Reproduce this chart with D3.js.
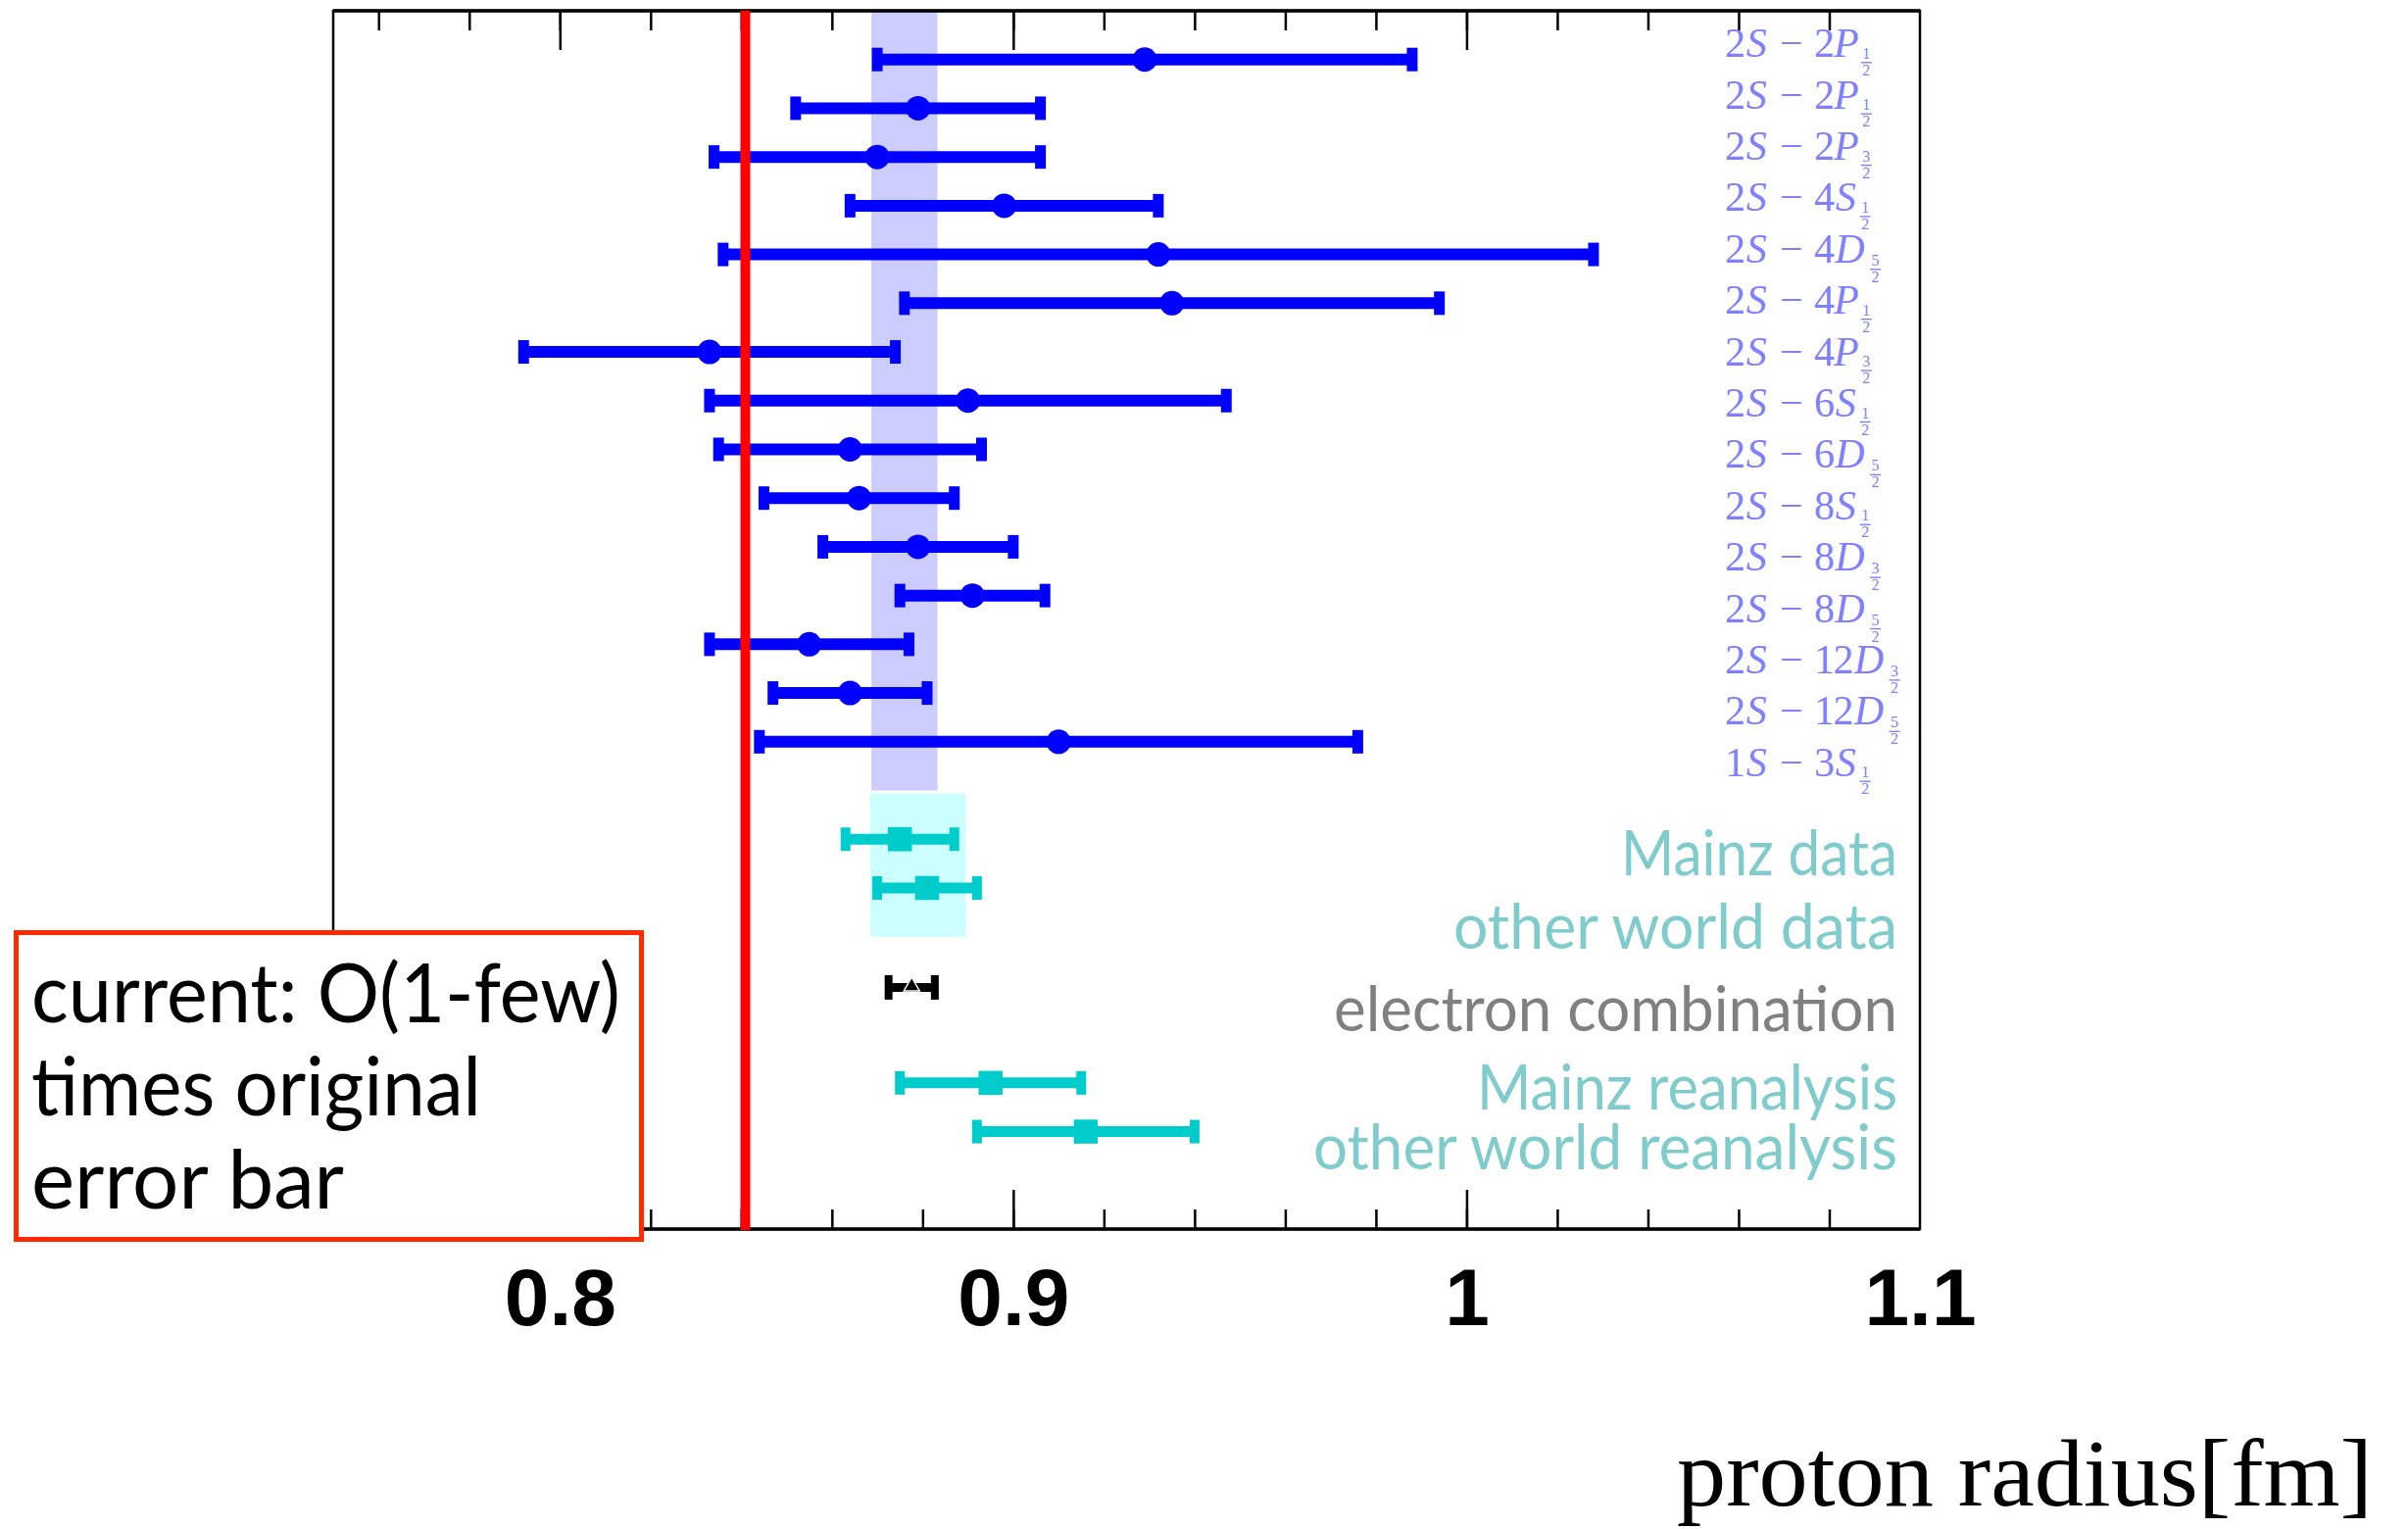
<!DOCTYPE html>
<html>
<head>
<meta charset="utf-8">
<script src="https://cdn.jsdelivr.net/npm/d3@7"></script>
<style>
  html, body { margin: 0; padding: 0; background: #fff; }
  svg { display: block; }
</style>
</head>
<body>
<script>
// ---------------- data ----------------
// Hydrogen spectroscopy: transition states and extracted proton radius [fm]
const lowerState = ["2S","2S","2S","2S","2S","2S","2S","2S","2S","2S","2S","2S","2S","2S","1S"];
const upperState = ["2P","2P","2P","4S","4D","4P","4P","6S","6D","8S","8D","8D","12D","12D","3S"];
const upperJ     = ["1/2","1/2","3/2","1/2","5/2","1/2","3/2","1/2","5/2","1/2","3/2","5/2","3/2","5/2","1/2"];
const hydrogenRadius = [0.929, 0.879, 0.870, 0.898, 0.932, 0.935, 0.833, 0.890, 0.864, 0.866, 0.879, 0.891, 0.855, 0.864, 0.910];
const hydrogenError  = [0.059, 0.027, 0.036, 0.034, 0.096, 0.059, 0.041, 0.057, 0.029, 0.021, 0.021, 0.016, 0.022, 0.017, 0.066];

// Electron scattering results
const scatteringLabels = ["Mainz data", "other world data", "electron combination", "Mainz reanalysis", "other world reanalysis"];
const scatteringRadius = [0.875, 0.881, 0.8776, 0.895, 0.916];
const scatteringError  = [0.012, 0.011, 0.0051, 0.020, 0.024];
const scatteringKind   = ["data", "data", "combination", "data", "data"];

// Averages and the muonic hydrogen value
const hydrogenAverage   = [0.876, 0.0073];
const scatteringAverage = [0.879, 0.0105];
const muonicRadius = 0.8409;

// Axis
const tickValuesLabelled = [0.8, 0.9, 1.0, 1.1];
const tickLabels = ["0.8", "0.9", "1", "1.1"];
const axisTitle = "proton radius[fm]";
const noteLines = ["current: O(1-few)", "times original", "error bar"];

// ---------------- layout ----------------
const W = 2457, H = 1560;
const plot = { left: 340, right: 1959, top: 11, bottom: 1254 };
const BLUE = "#0000ff", CYAN = "#00cccc", LABEL_BLUE = "#8080ff", LABEL_CYAN = "#80cccc";

const svg = d3.select("body").append("svg").attr("width", W).attr("height", H);
svg.append("rect").attr("width", W).attr("height", H).attr("fill", "#fff");

const x = d3.scaleLinear().domain([0.75, 1.1]).range([plot.left, plot.right]);
// one slot per row; slot -1 is the top edge, 24 the bottom edge
const y = d3.scaleLinear().domain([-1, 24]).range([plot.top, plot.bottom]);
const hydrogenSlot = d3.range(hydrogenRadius.length);
const scatteringSlot = [16, 17, 19, 21, 22];

// ---------------- frame ticks ----------------
const minorTicks = d3.range(38, 55).map(i => +(i / 50).toFixed(2));
const majorTicks = [0.8, 0.9, 1.0];

function tickAxis(axisFn, yPos, values, size) {
  const g = svg.append("g").attr("transform", `translate(0,${yPos})`)
    .call(axisFn(x).tickValues(values).tickSize(size).tickFormat(""));
  g.select(".domain").remove();
  g.selectAll(".tick line").attr("stroke", "#000").attr("stroke-width", 2.5);
}
tickAxis(d3.axisBottom, plot.top, minorTicks, 20);
tickAxis(d3.axisBottom, plot.top, majorTicks, 40);
tickAxis(d3.axisTop, plot.bottom, minorTicks, 20);
tickAxis(d3.axisTop, plot.bottom, majorTicks, 40);

// ---------------- average bands ----------------
svg.append("rect")
  .attr("x", x(hydrogenAverage[0] - hydrogenAverage[1]))
  .attr("width", x(hydrogenAverage[0] + hydrogenAverage[1]) - x(hydrogenAverage[0] - hydrogenAverage[1]))
  .attr("y", y(-1)).attr("height", y(15) - y(-1))
  .attr("fill", "#ccccff");
svg.append("rect")
  .attr("x", x(scatteringAverage[0] - scatteringAverage[1]))
  .attr("width", x(scatteringAverage[0] + scatteringAverage[1]) - x(scatteringAverage[0] - scatteringAverage[1]))
  .attr("y", y(15.06)).attr("height", y(18) - y(15.06))
  .attr("fill", "#ccffff");

// ---------------- frame ----------------
svg.append("rect")
  .attr("x", plot.left).attr("y", plot.top)
  .attr("width", plot.right - plot.left).attr("height", plot.bottom - plot.top)
  .attr("fill", "none").attr("stroke", "#000").attr("stroke-width", 2.5);
[plot.top, plot.bottom].forEach(yy =>
  svg.append("line").attr("x1", plot.left).attr("x2", plot.right).attr("y1", yy).attr("y2", yy)
    .attr("stroke", "#000").attr("stroke-width", 3.5));

// ---------------- error bars ----------------
function errorBar(g, v, e, yy, color, barW, capW, capH) {
  g.append("line").attr("x1", x(v - e)).attr("x2", x(v + e)).attr("y1", yy).attr("y2", yy)
    .attr("stroke", color).attr("stroke-width", barW);
  [v - e, v + e].forEach(c =>
    g.append("line").attr("x1", x(c)).attr("x2", x(c)).attr("y1", yy - capH / 2).attr("y2", yy + capH / 2)
      .attr("stroke", color).attr("stroke-width", capW));
}

const hydro = svg.append("g");
hydrogenSlot.forEach(i => {
  const yy = y(hydrogenSlot[i]);
  errorBar(hydro, hydrogenRadius[i], hydrogenError[i], yy, BLUE, 12, 11, 24);
  hydro.append("circle").attr("cx", x(hydrogenRadius[i])).attr("cy", yy).attr("r", 12.5).attr("fill", BLUE);
});

const scat = svg.append("g");
scatteringRadius.forEach((v, i) => {
  const yy = y(scatteringSlot[i]);
  if (scatteringKind[i] === "combination") {
    errorBar(scat, v, scatteringError[i], yy + 2, "#000", 9, 8, 25);
    // small white halo so the triangle reads against the bar
    scat.append("path").attr("d", d3.symbol(d3.symbolTriangle, 150)())
      .attr("transform", `translate(${x(v)},${yy + 1})`).attr("fill", "#fff");
    scat.append("path").attr("d", d3.symbol(d3.symbolTriangle, 80)())
      .attr("transform", `translate(${x(v)},${yy + 1})`).attr("fill", "#000");
  } else {
    errorBar(scat, v, scatteringError[i], yy, CYAN, 11, 10, 24);
    scat.append("path").attr("d", d3.symbol(d3.symbolSquare, 600)())
      .attr("transform", `translate(${x(v)},${yy})`).attr("fill", CYAN);
  }
});

// ---------------- muonic hydrogen line ----------------
svg.append("line")
  .attr("x1", x(muonicRadius)).attr("x2", x(muonicRadius))
  .attr("y1", plot.top).attr("y2", plot.bottom + 1)
  .attr("stroke", "#ff0000").attr("stroke-width", 10);

// ---------------- transition labels ----------------
const cmWidth = { "0": .5, "1": .5, "2": .5, "3": .5, "4": .5, "5": .5, "6": .5, "7": .5, "8": .5, "9": .5,
                  "S": .613, "P": .642, "D": .828 };
const em = 39;
const labelBase = d3.scaleLinear().domain([0, 14]).range([58.3, 791.7]);
const labels = svg.append("g")
  .attr("font-family", "'Liberation Serif', 'DejaVu Serif', serif")
  .attr("font-size", 42).attr("fill", LABEL_BLUE);

function mathLabel(i, x0) {
  const base = labelBase(i);
  const g = labels.append("g");
  let cx = x0;
  const put = ch => {
    const w = cmWidth[ch] * em;
    g.append("text").attr("x", cx + w / 2).attr("y", base).attr("text-anchor", "middle")
      .attr("font-style", /[A-Z]/.test(ch) ? "italic" : "normal").text(ch);
    cx += w;
  };
  for (const ch of lowerState[i]) put(ch);
  g.append("text").attr("x", cx + 0.611 * em).attr("y", base).attr("text-anchor", "middle").text("\u2212");
  cx += 1.222 * em;
  for (const ch of upperState[i]) put(ch);
  const [num, den] = upperJ[i].split("/");
  const isD = upperState[i].endsWith("D");
  const fx = cx + (isD ? 10 : 8);
  const dy = isD ? 1.5 : 0;
  g.append("text").attr("x", fx).attr("y", base + 1.5 + dy).attr("font-size", 16).attr("text-anchor", "middle").text(num);
  g.append("line").attr("x1", fx - 5.5).attr("x2", fx + 5.5).attr("y1", base + 5.5 + dy).attr("y2", base + 5.5 + dy)
    .attr("stroke", LABEL_BLUE).attr("stroke-width", 1.4);
  g.append("text").attr("x", fx).attr("y", base + 18.5 + dy).attr("font-size", 16).attr("text-anchor", "middle").text(den);
}
hydrogenSlot.forEach(i => mathLabel(i, 1760.7));

// ---------------- scattering labels ----------------
const scatLabelBase  = [893.3, 968.3, 1051.7, 1131.7, 1193.3];
const scatLabelWidth = [282, 453, 575, 429, 596];
const scatLabelRight = 1936;
scatteringLabels.forEach((t, i) => {
  svg.append("text")
    .attr("x", scatLabelRight - scatLabelWidth[i]).attr("y", scatLabelBase[i])
    .attr("font-family", "Lato, 'Open Sans', sans-serif").attr("font-size", 63)
    .attr("textLength", scatLabelWidth[i]).attr("lengthAdjust", "spacingAndGlyphs")
    .attr("fill", scatteringKind[i] === "combination" ? "#808080" : LABEL_CYAN)
    .text(t);
});

// ---------------- note box ----------------
svg.append("rect").attr("x", 16.5).attr("y", 951.5).attr("width", 638).attr("height", 313)
  .attr("fill", "#fff").attr("stroke", "#ff2a00").attr("stroke-width", 5);
const noteBase = [1042.5, 1137.5, 1233];
const noteWidth = [601, 459, 319];
noteLines.forEach((t, i) => {
  svg.append("text").attr("x", 32).attr("y", noteBase[i])
    .attr("font-family", "Lato, 'Open Sans', sans-serif").attr("font-size", 83)
    .attr("textLength", noteWidth[i]).attr("lengthAdjust", "spacingAndGlyphs")
    .attr("fill", "#000").text(t);
});

// ---------------- tick labels and title ----------------
const lab = svg.append("g").attr("transform", `translate(0,${plot.bottom})`)
  .call(d3.axisBottom(x).tickValues(tickValuesLabelled).tickSize(0).tickPadding(39.5)
    .tickFormat((d, i) => tickLabels[i]));
lab.select(".domain").remove();
lab.attr("font-family", "'Liberation Sans', Arial, sans-serif").attr("font-size", 82).attr("font-weight", "bold");
lab.selectAll("text").attr("fill", "#000");

svg.append("text").attr("x", 1711).attr("y", 1536)
  .attr("font-family", "'Liberation Serif', 'DejaVu Serif', serif").attr("font-size", 98)
  .attr("textLength", 710).attr("lengthAdjust", "spacingAndGlyphs")
  .attr("fill", "#000").text(axisTitle);
</script>
</body>
</html>
